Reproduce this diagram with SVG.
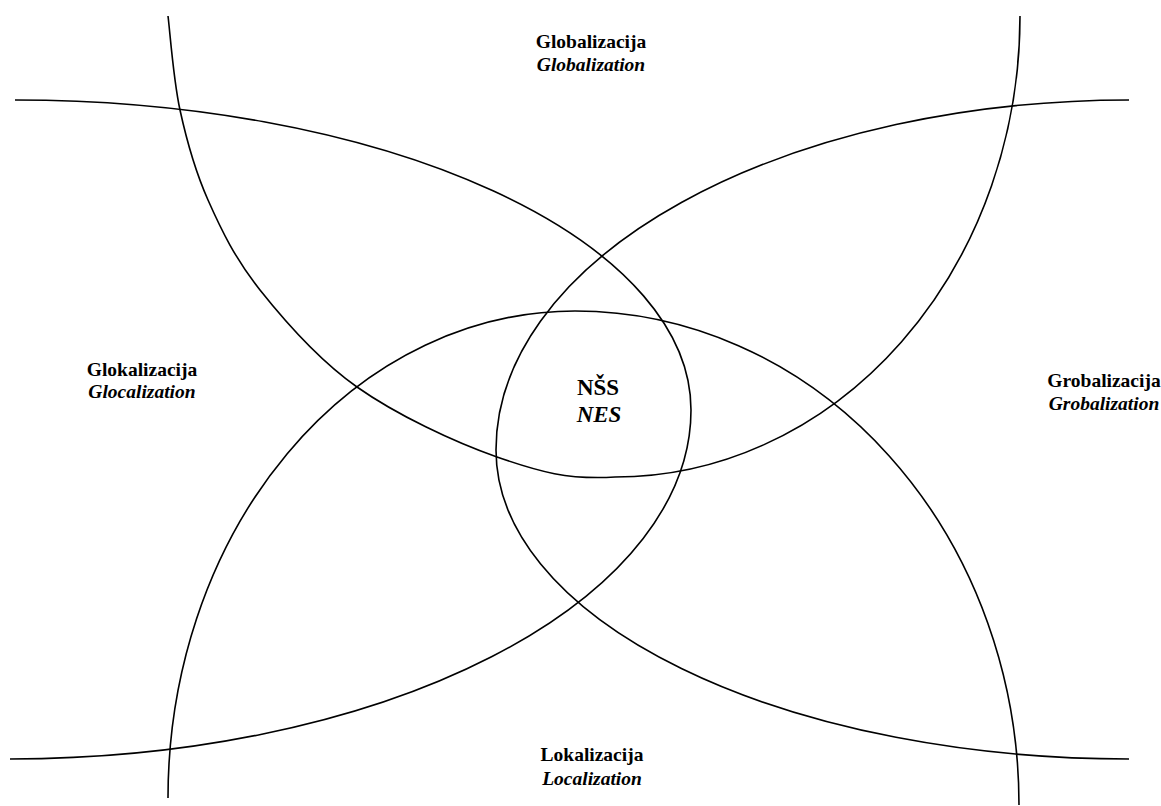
<svg xmlns="http://www.w3.org/2000/svg" width="1161" height="806" viewBox="0 0 1161 806">
<style>
.arc{fill:none;stroke:#000;stroke-width:1.6}
.t{font-weight:bold;font-size:19.5px;fill:#000;text-anchor:middle}
.i{font-style:italic}
.c{font-size:23px}
</style>
<rect width="1161" height="806" fill="#fff"/>
<g id="connectors">
<path id="arc-global" class="arc" d="M168,16 C170,31.7 173.3,79.3 180,110 C186.7,140.7 194.7,170 208,200 C221.3,230 235.2,258.8 260,290 C284.8,321.2 317.5,359.2 357,387 C396.5,414.8 454,442 497,457 C540,472 567.8,479.8 615,477 A405,461 0 0 0 1020,16"/>
<path id="arc-local" class="arc" d="M168,798 A407,487 0 0 1 575,311 A444,494 0 0 1 1019,805"/>
<path id="arc-glocal" class="arc" d="M15,100 A676,310 0 0 1 691,410 A681,349 0 0 1 10,759"/>
<path id="arc-grobal" class="arc" d="M1129,100 A633,350 0 0 0 496,450 A633,309 0 0 0 1129,759"/>
</g>
<g font-family="'Liberation Serif', 'Times New Roman', serif">
<g id="globalizacija">
<text class="t" x="591" y="48">Globalizacija</text>
<text class="t i" x="591" y="71">Globalization</text>
</g>
<g id="glokalizacija">
<text class="t" x="142" y="376">Glokalizacija</text>
<text class="t i" x="142" y="398">Glocalization</text>
</g>
<g id="grobalizacija">
<text class="t" x="1104" y="387">Grobalizacija</text>
<text class="t i" x="1104" y="410">Grobalization</text>
</g>
<g id="lokalizacija">
<text class="t" x="592" y="761">Lokalizacija</text>
<text class="t i" x="592" y="785">Localization</text>
</g>
<g id="nss">
<text class="t c" x="598" y="395">NŠS</text>
<text class="t i c" x="599" y="422">NES</text>
</g>
</g>
</svg>
